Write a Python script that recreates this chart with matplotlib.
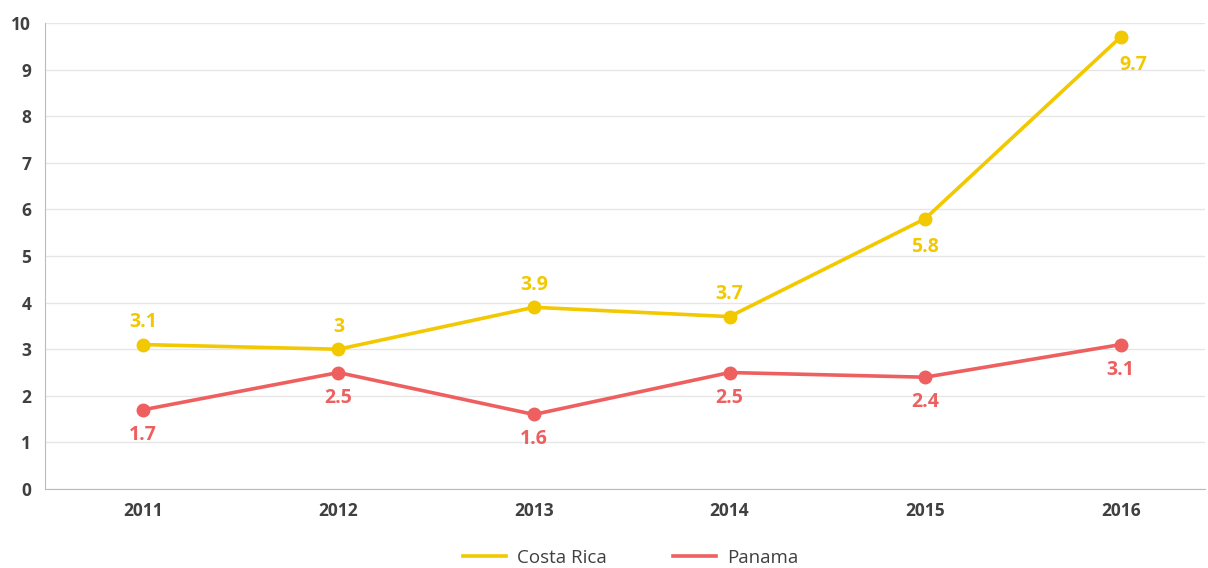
import matplotlib
matplotlib.use("Agg")
import matplotlib.pyplot as plt

years = ["2011", "2012", "2013", "2014", "2015", "2016"]
costa_rica = [3.1, 3.0, 3.9, 3.7, 5.8, 9.7]
panama = [1.7, 2.5, 1.6, 2.5, 2.4, 3.1]
costa_labels = ["3.1", "3", "3.9", "3.7", "5.8", "9.7"]
panama_labels = ["1.7", "2.5", "1.6", "2.5", "2.4", "3.1"]
costa_above = [True, True, True, True, False, False]

plt.rcParams['font.family'] = ['Open Sans', 'DejaVu Sans']

yellow = '#F2C800'
red = '#EE5F5F'
dark = '#404040'

fig = plt.figure(figsize=(12.08, 5.68), dpi=100)
ax = fig.add_axes([0.0373, 0.139, 0.96, 0.8205])

x = list(range(len(years)))
ax.plot(x, costa_rica, color=yellow, lw=2.6, marker='o', ms=9, label='Costa Rica', zorder=3)
ax.plot(x, panama, color=red, lw=2.6, marker='o', ms=9, label='Panama', zorder=3)

for i, (v, lab, up) in enumerate(zip(costa_rica, costa_labels, costa_above)):
    dy = 16 if up else -20
    dx = 9 if i == len(years) - 1 else 0
    ax.annotate(lab, (i, v), xytext=(dx, dy), textcoords='offset points',
                ha='center', va='center', color=yellow, fontsize=14, fontweight='bold')
for i, (v, lab) in enumerate(zip(panama, panama_labels)):
    ax.annotate(lab, (i, v), xytext=(0, -18), textcoords='offset points',
                ha='center', va='center', color=red, fontsize=14, fontweight='bold')

ax.set_xlim(-0.5, 5.43)
ax.set_ylim(0, 10)
ax.set_yticks(range(0, 11))
ax.set_xticks(x)
ax.set_xticklabels(years)
ax.tick_params(length=0, labelsize=12.5, colors=dark, pad=9)
ax.tick_params(axis='y', pad=10)
for lbl in ax.get_xticklabels() + ax.get_yticklabels():
    lbl.set_fontweight('bold')

ax.grid(axis='y', color='#E6E6E6', lw=1)
ax.set_axisbelow(True)
for s in ['top', 'right']:
    ax.spines[s].set_visible(False)
ax.spines['left'].set_color('#BBBBBB')
ax.spines['bottom'].set_color('#BBBBBB')

leg = fig.legend(handles=[ax.lines[0], ax.lines[1]], labels=['Costa Rica', 'Panama'],
                 loc='center', bbox_to_anchor=(0.522, 0.018), ncol=2, frameon=False,
                 fontsize=13.5, handlelength=2.3, handletextpad=0.6, columnspacing=3.5)
for h in leg.legend_handles:
    h.set_marker('')
for t in leg.get_texts():
    t.set_color(dark)

fig.savefig('out.png', dpi=100)
